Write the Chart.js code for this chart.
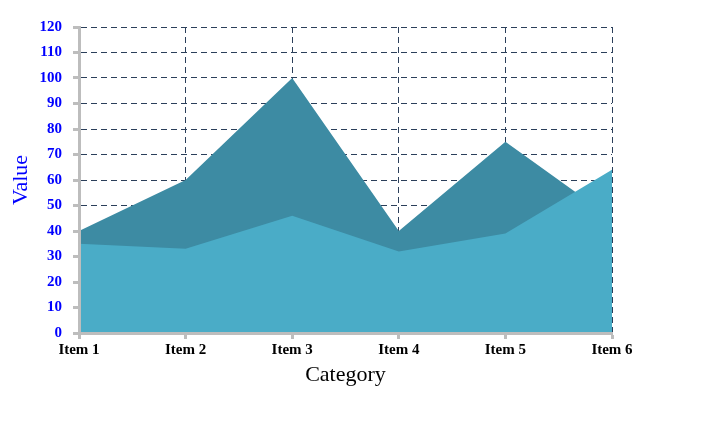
<!DOCTYPE html>
<html>
<head>
<meta charset="utf-8">
<script src="https://cdn.jsdelivr.net/npm/chart.js@4"></script>
<style>
    html, body { margin: 0; padding: 0; background: #ffffff; }
    #wrap { width: 704px; height: 422px; }
</style>
</head>
<body>
<div id="wrap"><canvas id="chart" width="704" height="422"></canvas></div>
<script>
const categories = ['Item 1', 'Item 2', 'Item 3', 'Item 4', 'Item 5', 'Item 6'];
const seriesBack = [40, 60, 100, 40, 75, 45];
const seriesFront = [35, 33, 46, 32, 39, 64];
const yTicks = [0, 10, 20, 30, 40, 50, 60, 70, 80, 90, 100, 110, 120];

const serif = 'Liberation Serif';
const gridColor = '#2b3f5a';
const axisColor = '#bdbdbd';

const ctx = document.getElementById('chart').getContext('2d');

new Chart(ctx, {
    type: 'line',
    data: {
        labels: categories,
        datasets: [
            {
                label: 'Front',
                data: seriesFront,
                backgroundColor: '#4aacc7',
                borderWidth: 0,
                pointRadius: 0,
                fill: 'origin',
                tension: 0,
                order: 1
            },
            {
                label: 'Back',
                data: seriesBack,
                backgroundColor: '#3d8ba3',
                borderWidth: 0,
                pointRadius: 0,
                fill: 'origin',
                tension: 0,
                order: 2
            }
        ]
    },
    options: {
        responsive: false,
        animation: false,
        layout: {
            padding: { top: 27, right: 92, bottom: 0, left: 0 }
        },
        plugins: {
            legend: { display: false },
            tooltip: { enabled: false }
        },
        scales: {
            x: {
                type: 'category',
                offset: false,
                afterFit: function(scale) { scale.height = 89; },
                grid: {
                    color: gridColor,
                    lineWidth: 1,
                    tickColor: axisColor,
                    tickWidth: 3,
                    tickLength: 6
                },
                border: {
                    color: axisColor,
                    width: 3,
                    dash: [6, 4],
                    z: 1
                },
                ticks: {
                    color: '#000000',
                    padding: 2,
                    maxRotation: 0,
                    font: { family: serif, size: 15, weight: 'bold' }
                },
                title: {
                    display: true,
                    text: 'Category',
                    color: '#000000',
                    padding: { top: 0, bottom: 34 },
                    font: { family: serif, size: 22 }
                }
            },
            y: {
                min: 0,
                max: 120,
                afterFit: function(scale) { scale.width = 79; },
                afterBuildTicks: function(scale) {
                    scale.ticks = yTicks.map(v => ({ value: v }));
                },
                grid: {
                    color: gridColor,
                    lineWidth: 1,
                    tickColor: axisColor,
                    tickWidth: 3,
                    tickLength: 6
                },
                border: {
                    color: axisColor,
                    width: 3,
                    dash: [6, 4],
                    z: 1
                },
                ticks: {
                    color: '#0000ff',
                    padding: 11,
                    font: { family: serif, size: 15, weight: 'bold' }
                },
                title: {
                    display: true,
                    text: 'Value',
                    color: '#0000ff',
                    padding: { top: 8, bottom: 0 },
                    font: { family: serif, size: 22 }
                }
            }
        }
    }
});
</script>
</body>
</html>
